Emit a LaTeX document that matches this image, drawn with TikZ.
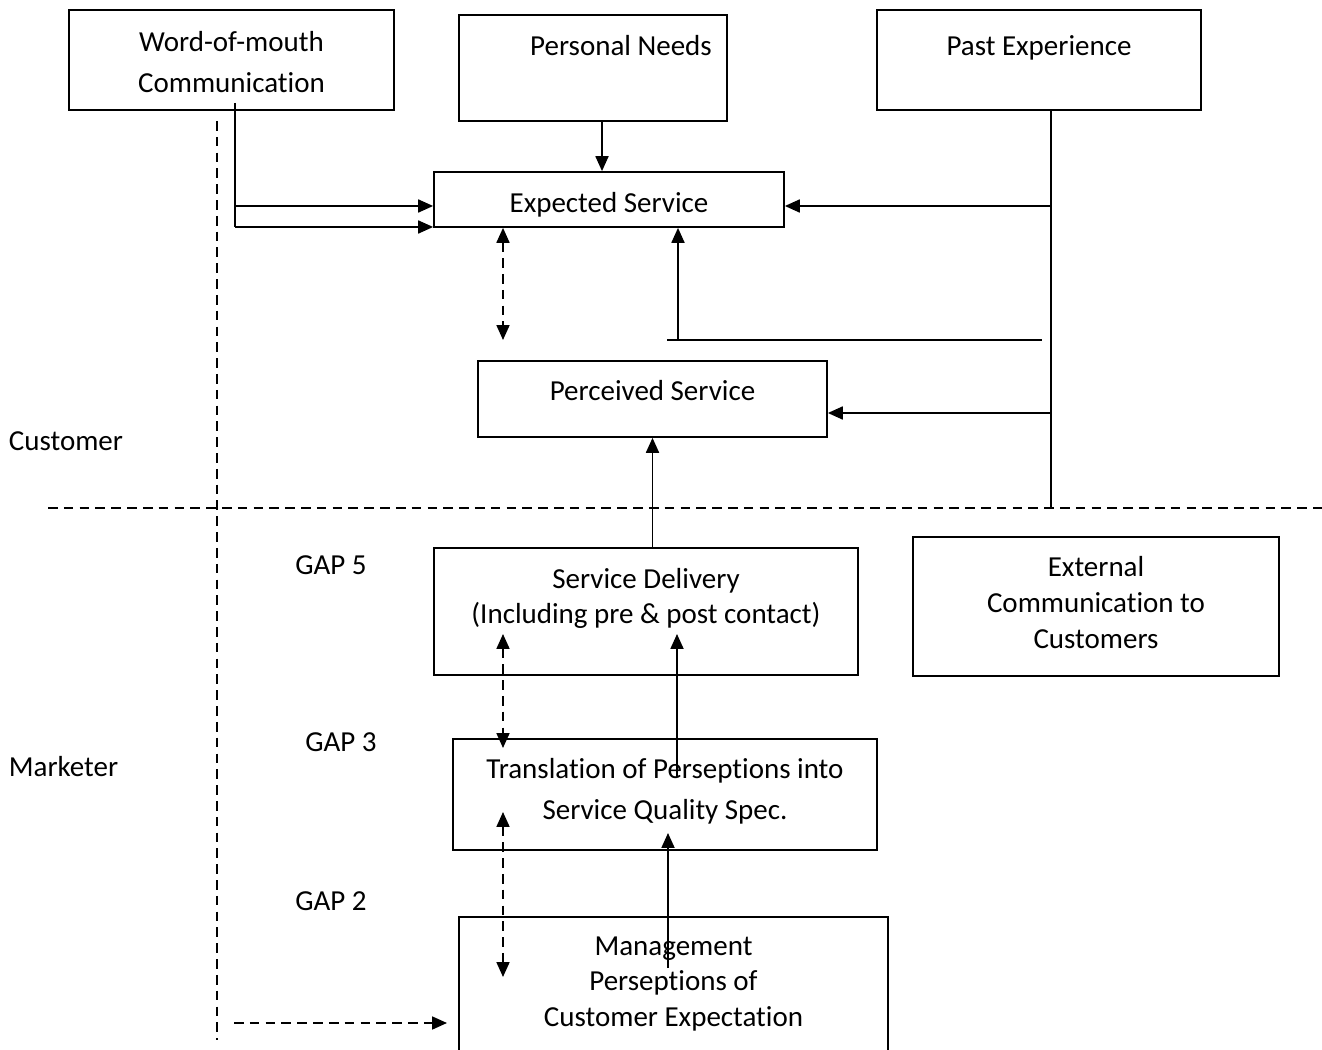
\documentclass[tikz,border=0pt]{standalone}
\usepackage{fontspec}
\setmainfont[Ligatures=NoCommon]{Carlito}
\usepackage{tikz}
\usetikzlibrary{arrows.meta, positioning}
\newcommand{\diagfont}{\fontsize{16.5}{20.4}\selectfont}
\def\px{0.02cm}

\begin{document}
\begin{tikzpicture}[x=0.02cm, y=-0.02cm, line width=1pt, font=\diagfont,
    >={Triangle[length=8.5pt, width=7.4pt]},
    box/.style={draw, inner sep=0pt, align=center},
    every label/.style={align=center, inner sep=0pt},
    side/.style={anchor=west, inner sep=0pt},
    conn/.style={->},
    gap/.style={<->, dash pattern=on 5.5pt off 3.5pt},
    divider/.style={dash pattern=on 5.5pt off 3.5pt}]
    % Frame
    \clip (0,0) rectangle (1322,1050);
    % Customer boxes
    \node[box, minimum width=325*\px, minimum height=100*\px, label={[yshift=-0.04cm]center:Word-of-mouth\\[3pt]Communication}] (wom) at (231.5,60) {};
    \node[box, minimum width=268*\px, minimum height=106*\px, label={[xshift=0.56cm, yshift=0.44cm]center:Personal Needs}] (needs) at (593,68) {};
    \node[box, minimum width=324*\px, minimum height=100*\px, label={[yshift=0.24cm]center:Past Experience}] (past) at (1039,60) {};
    \node[box, minimum width=350*\px, minimum height=55*\px, label={[yshift=-0.1cm]center:Expected Service}] (expected) at (609,199.5) {};
    \node[box, minimum width=349*\px, minimum height=76*\px, label={[yshift=0.16cm]center:Perceived Service}] (perceived) at (652.5,399) {};
    % Marketer boxes
    \node[box, minimum width=424*\px, minimum height=127*\px, label={[yshift=0.26cm]center:Service Delivery\\(Including pre \& post contact)}] (delivery) at (646,611.5) {};
    \node[box, minimum width=366*\px, minimum height=139*\px, label={[yshift=0.08cm]center:External\\Communication to\\Customers}] (external) at (1096,606.5) {};
    \node[box, minimum width=424*\px, minimum height=111*\px, label={[yshift=0.06cm]center:Translation of Perseptions into\\[3pt]Service Quality Spec.}] (translation) at (665,794.5) {};
    \node[box, minimum width=429*\px, minimum height=163*\px, label={[yshift=0.29cm]center:Management\\Perseptions of\\Customer Expectation}] (management) at (673.5,998.5) {};
    % Side labels
    \node[side] (customer) at (8,441) {Customer};
    \node[side] (marketer) at (8,767) {Marketer};
    \node (gap5) at (331,565) {GAP 5};
    \node (gap3) at (341,742) {GAP 3};
    \node (gap2) at (331,901) {GAP 2};
    % Divider
    \coordinate (div-l) at (48,508);
    \coordinate (div-r) at (1322,508);
    \draw[divider] (div-l) -- (div-r);
    % Word-of-mouth feeds
    \coordinate (w-top) at (235,103);
    \coordinate (w-a) at (235,206);
    \coordinate (w-b) at (235,227);
    \draw (w-top) -- (w-b);
    \draw[conn] (w-a) -- (w-a -| expected.west);
    \draw[conn] (w-b) -- (w-b -| expected.west);
    % Personal needs
    \draw[conn] (needs.south -| 602,0) -- (expected.north -| 602,0);
    % Past experience trunk
    \coordinate (p-a) at (1051,206);
    \coordinate (p-b) at (1051,413);
    \coordinate (p-end) at (1051,507);
    \draw (past.south -| p-end) -- (p-end);
    \draw[conn] (p-a) -- (p-a -| expected.east);
    \draw[conn] (p-b) -- (p-b -| perceived.east);
    % Feedback to expected service
    \coordinate (f-l) at (667,340);
    \coordinate (f-r) at (1042,340);
    \coordinate (f-up) at (678,340);
    \draw (f-l) -- (f-r);
    \draw[conn] (f-up) -- (f-up |- expected.south);
    % Delivery to perceived
    \draw[conn] (delivery.north -| perceived.south) -- (perceived.south);
    % Gap arrows
    \coordinate (g5) at (503,340);
    \draw[gap] (g5 |- expected.south) -- (g5);
    \coordinate (g3-a) at (503,634);
    \coordinate (g3-b) at (503,748);
    \draw[gap] (g3-a) -- (g3-b);
    \coordinate (g2-a) at (503,812);
    \coordinate (g2-b) at (503,977);
    \draw[gap] (g2-a) -- (g2-b);
    % Inner arrows
    \coordinate (t-in) at (677,777);
    \coordinate (d-in) at (677,634);
    \draw[conn] (t-in) -- (d-in);
    \coordinate (m-in) at (668,968);
    \coordinate (t-low) at (668,833);
    \draw[conn] (m-in) -- (t-low);
    % Word-of-mouth to management
    \coordinate (l-top) at (217,121);
    \coordinate (l-bot) at (217,1040);
    \draw[divider] (l-top) -- (l-bot);
    \coordinate (l-arr) at (234,1023);
    \coordinate (l-tip) at (447,1023);
    \draw[divider, ->] (l-arr) -- (l-tip);
\end{tikzpicture}
\end{document}
